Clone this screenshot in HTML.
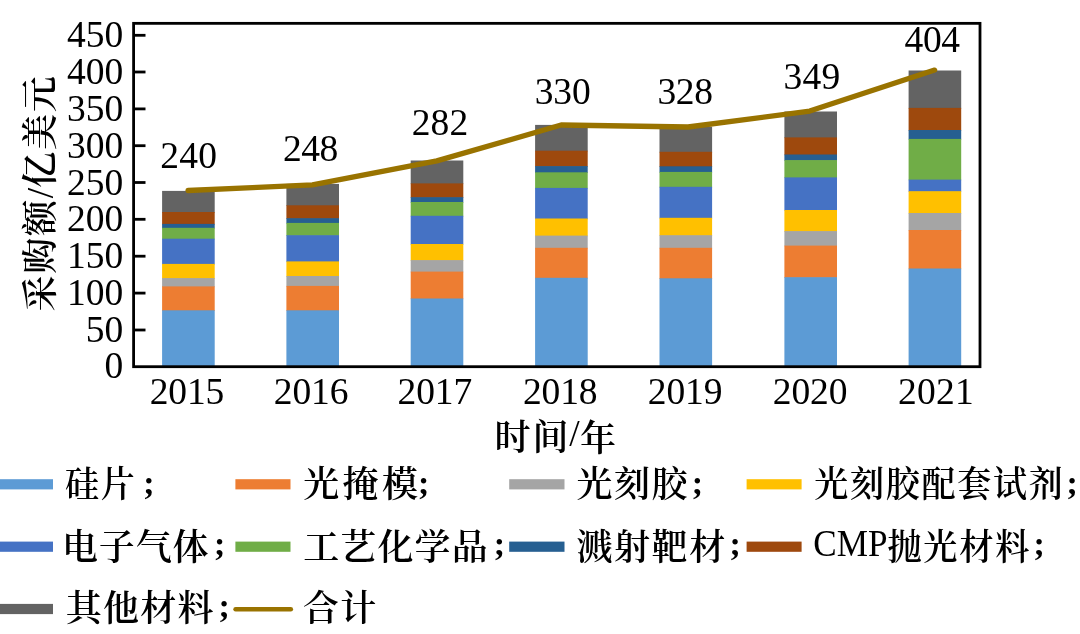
<!DOCTYPE html>
<html lang="zh"><head><meta charset="utf-8"><title>chart</title>
<style>html,body{margin:0;padding:0;background:#fff}svg{display:block}text{font-family:"Liberation Serif","Noto Serif CJK SC",serif;fill:#000}.c{font-weight:600}</style></head><body>
<svg width="1080" height="634" viewBox="0 0 1080 634">
<rect width="1080" height="634" fill="#fff"/>
<defs><filter id="soft" filterUnits="userSpaceOnUse" x="-20" y="-20" width="1120" height="674"><feGaussianBlur stdDeviation="0.5"/></filter></defs>
<g filter="url(#soft)">
<rect x="-20" y="-20" width="1120" height="674" fill="#fff"/>
<rect x="162.1" y="190.9" width="52.6" height="21.8" fill="#636363"/>
<rect x="162.1" y="212.0" width="52.6" height="12.6" fill="#9E480E"/>
<rect x="162.1" y="223.9" width="52.6" height="4.6" fill="#255E91"/>
<rect x="162.1" y="227.8" width="52.6" height="11.6" fill="#70AD47"/>
<rect x="162.1" y="238.7" width="52.6" height="25.9" fill="#4472C4"/>
<rect x="162.1" y="263.9" width="52.6" height="14.9" fill="#FFC000"/>
<rect x="162.1" y="278.1" width="52.6" height="9.0" fill="#A5A5A5"/>
<rect x="162.1" y="286.4" width="52.6" height="24.6" fill="#ED7D31"/>
<rect x="162.1" y="310.3" width="52.6" height="55.7" fill="#5B9BD5"/>
<rect x="286.4" y="183.9" width="52.6" height="22.1" fill="#636363"/>
<rect x="286.4" y="205.3" width="52.6" height="13.6" fill="#9E480E"/>
<rect x="286.4" y="218.2" width="52.6" height="5.4" fill="#255E91"/>
<rect x="286.4" y="222.9" width="52.6" height="13.0" fill="#70AD47"/>
<rect x="286.4" y="235.2" width="52.6" height="26.9" fill="#4472C4"/>
<rect x="286.4" y="261.4" width="52.6" height="15.3" fill="#FFC000"/>
<rect x="286.4" y="276.0" width="52.6" height="10.6" fill="#A5A5A5"/>
<rect x="286.4" y="285.9" width="52.6" height="25.1" fill="#ED7D31"/>
<rect x="286.4" y="310.3" width="52.6" height="55.7" fill="#5B9BD5"/>
<rect x="410.7" y="160.5" width="52.6" height="23.6" fill="#636363"/>
<rect x="410.7" y="183.4" width="52.6" height="14.5" fill="#9E480E"/>
<rect x="410.7" y="197.2" width="52.6" height="5.5" fill="#255E91"/>
<rect x="410.7" y="202.0" width="52.6" height="14.5" fill="#70AD47"/>
<rect x="410.7" y="215.8" width="52.6" height="28.9" fill="#4472C4"/>
<rect x="410.7" y="244.0" width="52.6" height="16.8" fill="#FFC000"/>
<rect x="410.7" y="260.1" width="52.6" height="12.2" fill="#A5A5A5"/>
<rect x="410.7" y="271.6" width="52.6" height="27.6" fill="#ED7D31"/>
<rect x="410.7" y="298.5" width="52.6" height="67.5" fill="#5B9BD5"/>
<rect x="535.1" y="124.9" width="52.6" height="26.5" fill="#636363"/>
<rect x="535.1" y="150.7" width="52.6" height="16.1" fill="#9E480E"/>
<rect x="535.1" y="166.1" width="52.6" height="6.9" fill="#255E91"/>
<rect x="535.1" y="172.3" width="52.6" height="16.3" fill="#70AD47"/>
<rect x="535.1" y="187.9" width="52.6" height="31.3" fill="#4472C4"/>
<rect x="535.1" y="218.5" width="52.6" height="17.8" fill="#FFC000"/>
<rect x="535.1" y="235.6" width="52.6" height="12.9" fill="#A5A5A5"/>
<rect x="535.1" y="247.8" width="52.6" height="30.7" fill="#ED7D31"/>
<rect x="535.1" y="277.8" width="52.6" height="88.2" fill="#5B9BD5"/>
<rect x="659.5" y="126.7" width="52.6" height="25.8" fill="#636363"/>
<rect x="659.5" y="151.8" width="52.6" height="15.2" fill="#9E480E"/>
<rect x="659.5" y="166.3" width="52.6" height="6.3" fill="#255E91"/>
<rect x="659.5" y="171.9" width="52.6" height="15.6" fill="#70AD47"/>
<rect x="659.5" y="186.8" width="52.6" height="31.7" fill="#4472C4"/>
<rect x="659.5" y="217.8" width="52.6" height="18.1" fill="#FFC000"/>
<rect x="659.5" y="235.2" width="52.6" height="13.3" fill="#A5A5A5"/>
<rect x="659.5" y="247.8" width="52.6" height="31.2" fill="#ED7D31"/>
<rect x="659.5" y="278.3" width="52.6" height="87.7" fill="#5B9BD5"/>
<rect x="784.4" y="111.5" width="52.6" height="26.6" fill="#636363"/>
<rect x="784.4" y="137.4" width="52.6" height="17.8" fill="#9E480E"/>
<rect x="784.4" y="154.5" width="52.6" height="6.3" fill="#255E91"/>
<rect x="784.4" y="160.1" width="52.6" height="18.0" fill="#70AD47"/>
<rect x="784.4" y="177.4" width="52.6" height="33.3" fill="#4472C4"/>
<rect x="784.4" y="210.0" width="52.6" height="21.8" fill="#FFC000"/>
<rect x="784.4" y="231.1" width="52.6" height="15.2" fill="#A5A5A5"/>
<rect x="784.4" y="245.6" width="52.6" height="32.3" fill="#ED7D31"/>
<rect x="784.4" y="277.2" width="52.6" height="88.8" fill="#5B9BD5"/>
<rect x="908.6" y="70.5" width="52.6" height="38.1" fill="#636363"/>
<rect x="908.6" y="107.9" width="52.6" height="22.8" fill="#9E480E"/>
<rect x="908.6" y="130.0" width="52.6" height="9.6" fill="#255E91"/>
<rect x="908.6" y="138.9" width="52.6" height="41.4" fill="#70AD47"/>
<rect x="908.6" y="179.6" width="52.6" height="12.3" fill="#4472C4"/>
<rect x="908.6" y="191.2" width="52.6" height="22.5" fill="#FFC000"/>
<rect x="908.6" y="213.0" width="52.6" height="17.7" fill="#A5A5A5"/>
<rect x="908.6" y="230.0" width="52.6" height="39.2" fill="#ED7D31"/>
<rect x="908.6" y="268.5" width="52.6" height="97.5" fill="#5B9BD5"/>
<rect x="133.6" y="23.35" width="846.4" height="343.35" fill="none" stroke="#000" stroke-width="2.8"/>
<line x1="134" y1="35.3" x2="145.5" y2="35.3" stroke="#000" stroke-width="2.8"/>
<line x1="134" y1="72.0" x2="145.5" y2="72.0" stroke="#000" stroke-width="2.8"/>
<line x1="134" y1="108.9" x2="145.5" y2="108.9" stroke="#000" stroke-width="2.8"/>
<line x1="134" y1="145.7" x2="145.5" y2="145.7" stroke="#000" stroke-width="2.8"/>
<line x1="134" y1="182.5" x2="145.5" y2="182.5" stroke="#000" stroke-width="2.8"/>
<line x1="134" y1="219.3" x2="145.5" y2="219.3" stroke="#000" stroke-width="2.8"/>
<line x1="134" y1="256.2" x2="145.5" y2="256.2" stroke="#000" stroke-width="2.8"/>
<line x1="134" y1="293.1" x2="145.5" y2="293.1" stroke="#000" stroke-width="2.8"/>
<line x1="134" y1="330.0" x2="145.5" y2="330.0" stroke="#000" stroke-width="2.8"/>
<text x="123.3" y="47.4" font-size="37.5" text-anchor="end">450</text>
<text x="123.3" y="84.1" font-size="37.5" text-anchor="end">400</text>
<text x="123.3" y="121.0" font-size="37.5" text-anchor="end">350</text>
<text x="123.3" y="157.8" font-size="37.5" text-anchor="end">300</text>
<text x="123.3" y="194.6" font-size="37.5" text-anchor="end">250</text>
<text x="123.3" y="231.4" font-size="37.5" text-anchor="end">200</text>
<text x="123.3" y="268.3" font-size="37.5" text-anchor="end">150</text>
<text x="123.3" y="305.2" font-size="37.5" text-anchor="end">100</text>
<text x="123.3" y="342.1" font-size="37.5" text-anchor="end">50</text>
<text x="123.3" y="377.8" font-size="37.5" text-anchor="end">0</text>
<polyline points="188.0,190.5 312.4,184.9 436.8,160.9 561.1,125.0 688.0,127.0 809.7,111.1 934.6,70.1" fill="none" stroke="#997300" stroke-width="5.3" stroke-linecap="round" stroke-linejoin="round"/>
<text x="160.20" y="167.55" font-size="37.5" letter-spacing="0.25">240</text>
<text x="283.00" y="161.20" font-size="37.5" letter-spacing="-0.45">248</text>
<text x="411.80" y="135.30" font-size="37.5" letter-spacing="0.05">282</text>
<text x="534.70" y="104.25" font-size="37.5" letter-spacing="-0.10">330</text>
<text x="657.50" y="104.05" font-size="37.5" letter-spacing="-0.40">328</text>
<text x="783.60" y="88.55" font-size="37.5" letter-spacing="0.20">349</text>
<text x="904.60" y="52.00" font-size="37.5" letter-spacing="-0.45">404</text>
<text x="149.70" y="404.25" font-size="37.5" letter-spacing="-0.13">2015</text>
<text x="273.80" y="404.25" font-size="37.5" letter-spacing="-0.13">2016</text>
<text x="397.60" y="404.25" font-size="37.5" letter-spacing="-0.13">2017</text>
<text x="523.00" y="404.25" font-size="37.5" letter-spacing="-0.13">2018</text>
<text x="647.80" y="404.25" font-size="37.5" letter-spacing="-0.13">2019</text>
<text x="772.80" y="404.25" font-size="37.5" letter-spacing="-0.13">2020</text>
<text x="898.10" y="404.25" font-size="37.5" letter-spacing="0.20">2021</text>
<text class="c" x="494.40" y="450.10" font-size="36" letter-spacing="2.10">时间</text>
<text x="569.30" y="446.40" font-size="37.5">/</text>
<text class="c" x="580.10" y="450.60" font-size="36">年</text>
<text class="c" transform="translate(52.5,193.0) rotate(-90)" font-size="36" text-anchor="middle"><tspan letter-spacing="1.8">采购额</tspan><tspan font-weight="400" font-size="37.5">/</tspan><tspan letter-spacing="1.8">亿美元</tspan></text>
<rect x="-5" y="479.2" width="58.0" height="10.2" fill="#5B9BD5"/>
<text class="c" transform="translate(64.96,497.40) scale(0.9437,1)" font-size="36" letter-spacing="1.8">硅片</text>
<text x="143.20" y="493.65" font-size="34" font-weight="700">;</text>
<rect x="235.4" y="479.2" width="55.1" height="10.2" fill="#ED7D31"/>
<text class="c" x="303.20" y="497.40" font-size="36" letter-spacing="3.35">光掩模</text>
<text x="418.00" y="493.65" font-size="34" font-weight="700">;</text>
<rect x="509.2" y="479.2" width="55.3" height="10.2" fill="#A5A5A5"/>
<text class="c" x="576.40" y="497.40" font-size="36" letter-spacing="1.50">光刻胶</text>
<text x="691.70" y="493.65" font-size="34" font-weight="700">;</text>
<rect x="746.6" y="479.2" width="55.0" height="10.2" fill="#FFC000"/>
<text class="c" transform="translate(814.15,497.40) scale(0.9465,1)" font-size="36" letter-spacing="1.8">光刻胶配套试剂</text>
<text x="1066.60" y="493.65" font-size="34" font-weight="700">;</text>
<rect x="-5" y="541.6" width="58.0" height="10.2" fill="#4472C4"/>
<text class="c" x="61.90" y="559.70" font-size="36" letter-spacing="0.90">电子气体</text>
<text x="213.90" y="555.25" font-size="34" font-weight="700">;</text>
<rect x="235.4" y="541.6" width="55.1" height="10.2" fill="#70AD47"/>
<text class="c" x="303.20" y="559.70" font-size="36" letter-spacing="1.12">工艺化学品</text>
<text x="493.80" y="555.25" font-size="34" font-weight="700">;</text>
<rect x="509.2" y="541.6" width="55.3" height="10.2" fill="#255E91"/>
<text class="c" x="576.40" y="559.70" font-size="36" letter-spacing="1.60">溅射靶材</text>
<text x="729.50" y="555.25" font-size="34" font-weight="700">;</text>
<rect x="746.6" y="541.6" width="55.0" height="10.2" fill="#9E480E"/>
<text transform="translate(813.29,556.30) scale(0.9127,1)" font-size="38.5">CMP</text>
<text class="c" transform="translate(887.45,559.70) scale(0.9507,1)" font-size="36" letter-spacing="1.8">抛光材料</text>
<text x="1033.50" y="555.25" font-size="34" font-weight="700">;</text>
<rect x="-5" y="603.9" width="58.0" height="10.2" fill="#636363"/>
<text class="c" x="65.70" y="621.20" font-size="36" letter-spacing="1.30">其他材料</text>
<text x="218.60" y="616.85" font-size="34" font-weight="700">;</text>
<line x1="235.6" y1="609.2" x2="290.8" y2="609.2" stroke="#997300" stroke-width="4.6" stroke-linecap="round"/>
<text class="c" x="302.70" y="621.20" font-size="36" letter-spacing="1.50">合计</text>
</g></svg></body></html>
